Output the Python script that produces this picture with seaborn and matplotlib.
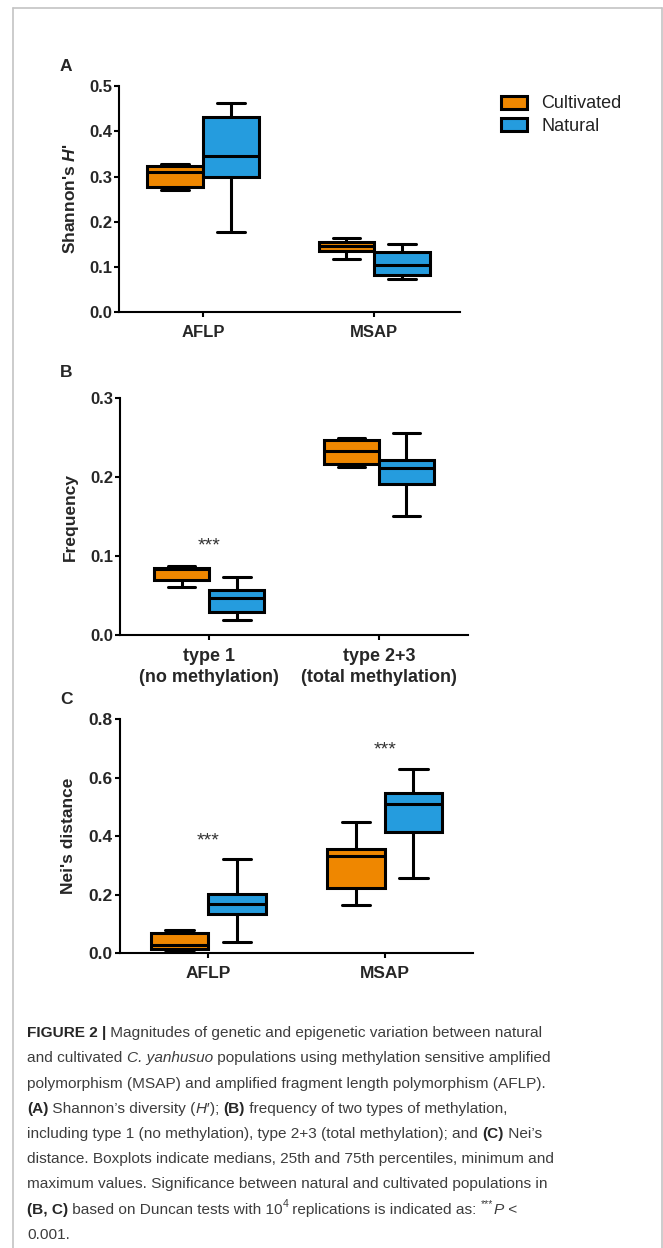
import numpy as np
import pandas as pd
import matplotlib
matplotlib.use("Agg")
import matplotlib.pyplot as plt
import seaborn as sns
from matplotlib.lines import Line2D

# ---------------- data (five-number summaries) ----------------
groups = ["Cultivated", "Natural"]
colors = ["#EF8700", "#259CDE"]

a_categories = ["AFLP", "MSAP"]
a_cultivated = [[0.270, 0.276, 0.310, 0.3235, 0.327], [0.118, 0.135, 0.146, 0.156, 0.164]]
a_natural = [[0.178, 0.2985, 0.3456, 0.4316, 0.4634], [0.073, 0.082, 0.104, 0.134, 0.150]]
a_yticks = [0.0, 0.1, 0.2, 0.3, 0.4, 0.5]

b_categories = ["type 1\n(no methylation)", "type 2+3\n(total methylation)"]
b_cultivated = [[0.0615, 0.0704, 0.0845, 0.0856, 0.0881], [0.2135, 0.2165, 0.233, 0.2468, 0.250]]
b_natural = [[0.019, 0.030, 0.0468, 0.0577, 0.0742], [0.1506, 0.1911, 0.2114, 0.2223, 0.2565]]
b_yticks = [0.0, 0.1, 0.2, 0.3]
b_sig_x = [0]
b_sig_y = [0.107]

c_categories = ["AFLP", "MSAP"]
c_cultivated = [[0.003, 0.014, 0.028, 0.068, 0.080], [0.164, 0.224, 0.332, 0.356, 0.448]]
c_natural = [[0.038, 0.133, 0.167, 0.2025, 0.321], [0.256, 0.415, 0.510, 0.547, 0.628]]
c_yticks = [0.0, 0.2, 0.4, 0.6, 0.8]
c_sig_x = [0, 1]
c_sig_y = [0.369, 0.680]

# ---------------- style ----------------
sns.set_style("ticks")
plt.rcParams["font.family"] = ["Liberation Sans", "DejaVu Sans"]
plt.rcParams["mathtext.fontset"] = "custom"
plt.rcParams["mathtext.rm"] = "Liberation Sans:bold"
plt.rcParams["mathtext.it"] = "Liberation Sans:italic:bold"
plt.rcParams["mathtext.bf"] = "Liberation Sans:bold"

W, H = 663, 1248
fig = plt.figure(figsize=(W / 100, H / 100), dpi=100)
fig.patch.set_facecolor("white")


def px_axes(l, t, r, b):
    return fig.add_axes([l / W, 1 - b / H, (r - l) / W, (b - t) / H])


def long_df(cats, cult, nat):
    rows = []
    for ci, cat in enumerate(cats):
        for g, arr in zip(groups, [cult, nat]):
            for v in arr[ci]:
                rows.append({"cat": cat, "group": g, "val": v})
    return pd.DataFrame(rows)


def panel(ax, cats, cult, nat, yticks, ylabel, xlim, legend, ticksize, xlabsize, ylab_x):
    df = long_df(cats, cult, nat)
    sns.boxplot(data=df, x="cat", y="val", hue="group", order=cats, hue_order=groups,
                palette=colors, saturation=1, width=0.65, gap=0, whis=(0, 100),
                linewidth=2.2, linecolor="black", fliersize=0, legend=legend, ax=ax)
    ax.set_xlim(*xlim)
    ax.set_ylim(yticks[0], yticks[-1])
    ax.set_yticks(yticks)
    ax.set_yticklabels([f"{t:.1f}" for t in yticks], fontweight="bold", fontsize=ticksize)
    ax.set_xticks(range(len(cats)))
    ax.set_xticklabels(cats, fontweight="bold", fontsize=xlabsize, linespacing=1.35)
    ax.set_xlabel("")
    ax.set_ylabel(ylabel, fontweight="bold", fontsize=12.5)
    ax.yaxis.label.set_va("center")
    ax.yaxis.set_label_coords(ylab_x, 0.5)
    for s in ["top", "right"]:
        ax.spines[s].set_visible(False)
    for s in ["left", "bottom"]:
        ax.spines[s].set_linewidth(1.5)
        ax.spines[s].set_color("black")
    ax.tick_params(axis="both", direction="out", length=3.6, width=1.5, color="black")
    ax.tick_params(axis="y", pad=1.5)
    ax.tick_params(axis="x", pad=5.5)
    ax.patch.set_alpha(0)


axA = px_axes(119, 86, 460, 312.3)
panel(axA, a_categories, a_cultivated, a_natural, a_yticks, "Shannon's $H$'",
      (-0.49, 1.5), True, 12, 12, -0.1437)

axB = px_axes(120, 398.3, 468, 635.3)
panel(axB, b_categories, b_cultivated, b_natural, b_yticks, "Frequency",
      (-0.525, 1.525), False, 12, 13, -0.1437)
for x, y in zip(b_sig_x, b_sig_y):
    axB.text(x, y, "***", ha="center", va="baseline", fontsize=14, color="#333333")

axC = px_axes(120, 719, 473, 953.3)
panel(axC, c_categories, c_cultivated, c_natural, c_yticks, "Nei's distance",
      (-0.5, 1.5), False, 12.5, 12.5, -0.147)
for x, y in zip(c_sig_x, c_sig_y):
    axC.text(x, y, "***", ha="center", va="baseline", fontsize=14, color="#333333")

# legend
sns.move_legend(axA, "upper left", bbox_to_anchor=(501 / W, 1 - 95.5 / H),
                bbox_transform=fig.transFigure, frameon=False, title=None,
                borderpad=0, borderaxespad=0, handlelength=1.44, handleheight=0.74,
                handletextpad=0.78, labelspacing=0.3, fontsize=13)
for t in axA.get_legend().get_texts():
    t.set_color("#222222")

# panel letters
for letter, base in zip(["A", "B", "C"], [70.7, 376.7, 704.0]):
    fig.text(60 / W, 1 - base / H, letter, fontsize=12.5, fontweight="bold",
             ha="left", va="baseline")

# outer frame
fc = "#c4c4c4"
fig.add_artist(Line2D([13 / W, 13 / W], [1 - 8 / H, -0.01], transform=fig.transFigure, color=fc, lw=1.2))
fig.add_artist(Line2D([13 / W, 661.5 / W], [1 - 8 / H, 1 - 8 / H], transform=fig.transFigure, color=fc, lw=1.2))
fig.add_artist(Line2D([661.5 / W, 661.5 / W], [1 - 8 / H, -0.01], transform=fig.transFigure, color=fc, lw=1.2))

# ---------------- caption ----------------
renderer = fig.canvas.get_renderer()
cap_color = "#3d3d3d"
bold_color = "#262626"

caption = [
    [("FIGURE 2 |", "b"), (" Magnitudes of genetic and epigenetic variation between natural", "n")],
    [("and cultivated ", "n"), ("C. yanhusuo", "i"), (" populations using methylation sensitive amplified", "n")],
    [("polymorphism (MSAP) and amplified fragment length polymorphism (AFLP).", "n")],
    [("(A)", "b"), (" Shannon\u2019s diversity (", "n"), ("H\u2032", "i"), ("); ", "n"), ("(B)", "b"),
     (" frequency of two types of methylation,", "n")],
    [("including type 1 (no methylation), type 2+3 (total methylation); and ", "n"), ("(C)", "b"),
     (" Nei\u2019s", "n")],
    [("distance. Boxplots indicate medians, 25th and 75th percentiles, minimum and", "n")],
    [("maximum values. Significance between natural and cultivated populations in", "n")],
    [("(B, C)", "b"), (" based on Duncan tests with 10", "n"), ("4", "sup"),
     (" replications is indicated as: ", "n"), ("***", "sup"), ("P", "i"), (" <", "n")],
    [("0.001.", "n")],
]


def style_kw(style, size):
    kw = dict(fontsize=size, color=cap_color)
    if style == "b":
        kw.update(fontweight="bold", color=bold_color)
    elif style == "i":
        kw.update(fontstyle="italic")
    elif style == "sup":
        kw.update(fontsize=size * 0.68)
    return kw


def seg_width(txt, kw):
    t1 = fig.text(0, 0, "|" + txt + "|", **kw)
    t2 = fig.text(0, 0, "||", **kw)
    w = t1.get_window_extent(renderer).width - t2.get_window_extent(renderer).width
    t1.remove()
    t2.remove()
    return w


base_size = 11.0
w0 = sum(seg_width(s, style_kw(st, base_size)) for s, st in caption[0])
cap_size = base_size * 513.0 / w0

x0 = 27.0
for i, line in enumerate(caption):
    baseline = 1037.2 + 25.2 * i
    x = x0
    for s, st in line:
        kw = style_kw(st, cap_size)
        yb = baseline - (cap_size * 100 / 72 * 0.42 if st == "sup" else 0)
        fig.text(x / W, 1 - yb / H, s, ha="left", va="baseline", **kw)
        x += seg_width(s, kw)

fig.savefig("out.png", dpi=100, facecolor="white")
